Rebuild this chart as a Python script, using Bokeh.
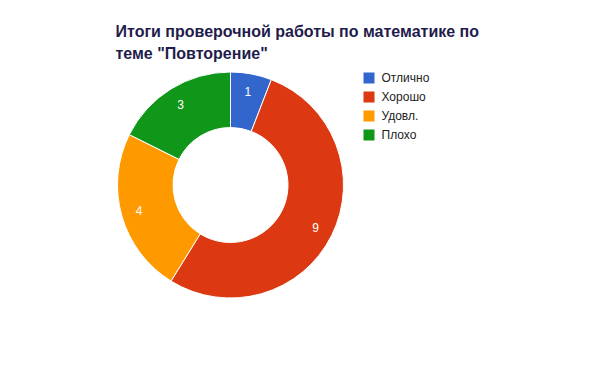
import math
from bokeh.plotting import figure
from bokeh.models import Range1d, ColumnDataSource
from bokeh.core.properties import value
from bokeh.embed import file_html
from bokeh.resources import INLINE

# ---- data ----
title_lines = ["Итоги проверочной работы по математике по", "теме \"Повторение\""]
categories = ["Отлично", "Хорошо", "Удовл.", "Плохо"]
counts = [1, 9, 4, 3]
colors = ["#3366cc", "#dc3912", "#ff9900", "#109618"]

W, H = 584, 355
p = figure(width=W, height=H, output_backend="svg", toolbar_location=None,
           x_range=Range1d(0, W), y_range=Range1d(371 - H, 371),
           min_border=0, tools="")
p.axis.visible = False
p.grid.visible = False
p.outline_line_color = None
p.background_fill_color = "white"
p.border_fill_color = "white"

def sy(y):  # screen y -> data y
    return 371 - y

# ---- donut ----
cx, cy = 230.0, sy(184.5)
r_out, r_in = 113.0, 57.5
total = float(sum(counts))
starts, ends, lx, ly = [], [], [], []
cum = 0.0
for v in counts:
    a0 = math.pi / 2 - 2 * math.pi * cum / total
    a1 = math.pi / 2 - 2 * math.pi * (cum + v) / total
    mid = math.pi / 2 - 2 * math.pi * (cum + v / 2) / total
    starts.append(a0)
    ends.append(a1)
    lx.append(cx + 95 * math.cos(mid))
    ly.append(cy + 95 * math.sin(mid))
    cum += v

src = ColumnDataSource(dict(start=starts, end=ends, color=colors,
                            lx=lx, ly=ly, lab=[str(c) for c in counts]))
p.annular_wedge(x=cx, y=cy, inner_radius=r_in, outer_radius=r_out,
                inner_radius_units="screen", outer_radius_units="screen",
                start_angle="start", end_angle="end", direction="clock",
                fill_color="color", line_color="white", line_width=1, source=src)
p.text(x="lx", y="ly", text="lab", source=src, text_color="white",
       text_font=value("Liberation Sans"), text_font_size="12px",
       text_align="center", text_baseline="middle")

# ---- title ----
p.text(x=[115, 115], y=[sy(31), sy(53)], text=title_lines,
       text_font=value("Liberation Sans"), text_font_size="16px",
       text_font_style="bold", text_color="#1f1c4c",
       text_align="left", text_baseline="alphabetic")

# ---- legend ----
rows = [sy(77.5 + 19 * i) for i in range(len(categories))]
p.rect(x=[368.5] * len(categories), y=rows, width=11, height=11,
       width_units="screen", height_units="screen",
       fill_color=colors, line_color=None)
p.text(x=[381] * len(categories), y=rows, text=categories,
       text_font=value("Liberation Sans"), text_font_size="12px",
       text_color="#222222", text_align="left", text_baseline="middle")

open("out.html", "w").write(file_html(p, INLINE))
